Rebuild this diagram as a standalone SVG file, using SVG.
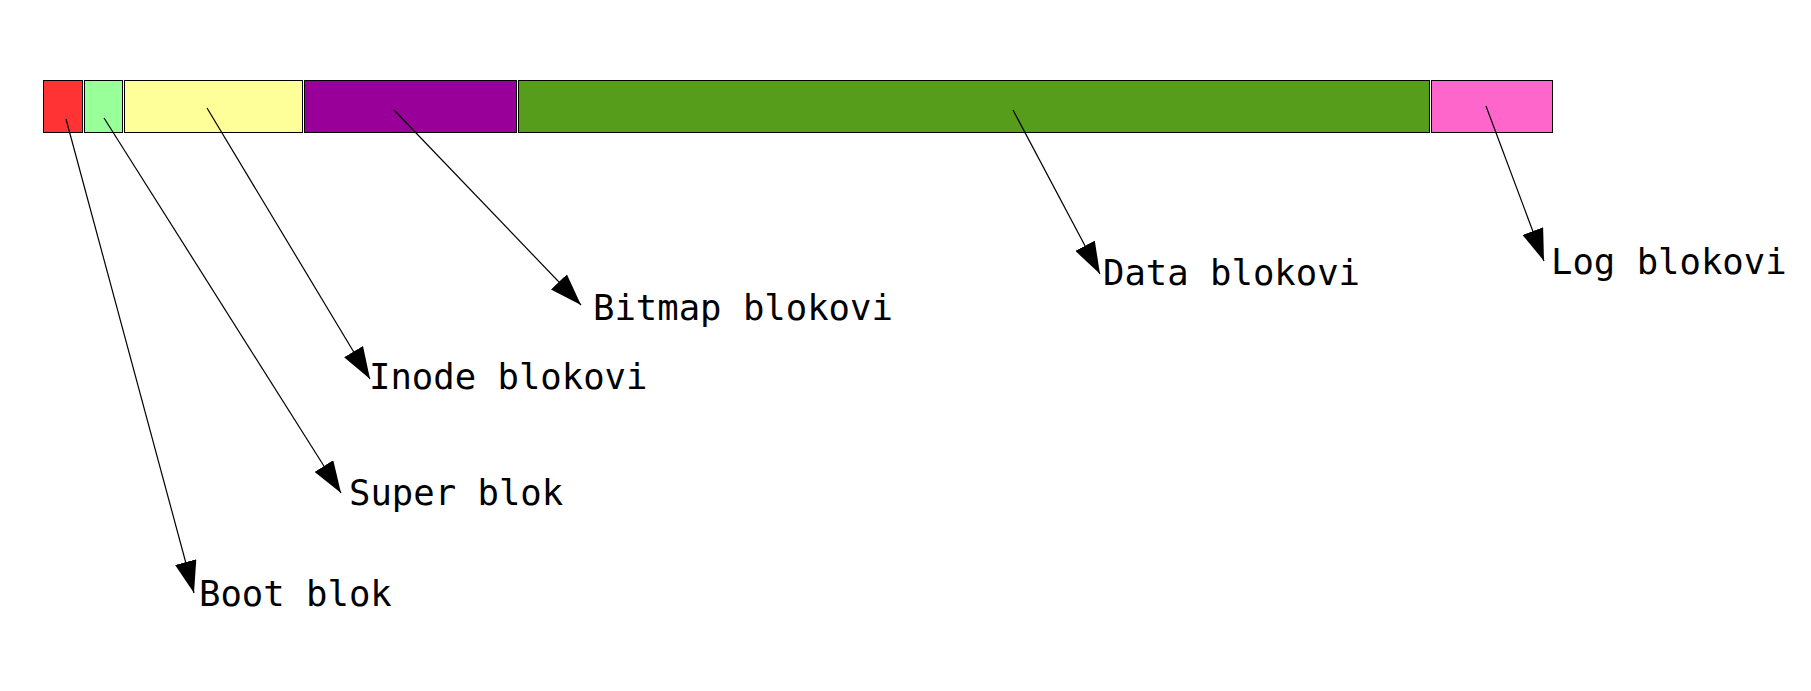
<svg xmlns="http://www.w3.org/2000/svg" width="1811" height="691" viewBox="0 0 1811 691">
  <style>
    .blk { stroke: #000; stroke-width: 1; }
    .lbl { font-family: "DejaVu Sans Mono", "Liberation Mono", monospace; font-size: 35.6px; fill: #000; }
    .wire { stroke: #000; stroke-width: 1.2; fill: none; marker-end: url(#arrow); }
  </style>
  <defs>
    <marker id="arrow" markerUnits="userSpaceOnUse" markerWidth="32" markerHeight="22" viewBox="0 0 29 20" refX="29" refY="10" orient="auto">
      <path d="M0,0 L29,10 L0,20 Z" fill="#000"/>
    </marker>
  </defs>
  <rect width="1811" height="691" fill="#fff"/>

  <!-- disk layout bar -->
  <g id="boot-block"><rect class="blk" x="43.5" y="80.5" width="39" height="52" fill="#ff3333"/></g>
  <g id="super-block"><rect class="blk" x="84.5" y="80.5" width="38" height="52" fill="#99ff99"/></g>
  <g id="inode-blocks"><rect class="blk" x="124.5" y="80.5" width="178" height="52" fill="#ffff99"/></g>
  <g id="bitmap-blocks"><rect class="blk" x="304.5" y="80.5" width="212" height="52" fill="#990099"/></g>
  <g id="data-blocks"><rect class="blk" x="518.5" y="80.5" width="911" height="52" fill="#579d1c"/></g>
  <g id="log-blocks"><rect class="blk" x="1431.5" y="80.5" width="121" height="52" fill="#ff66cc"/></g>

  <!-- labels -->
  <g id="labels">
    <text class="lbl" x="199" y="606">Boot blok</text>
    <text class="lbl" x="349" y="505">Super blok</text>
    <text class="lbl" x="369" y="389">Inode blokovi</text>
    <text class="lbl" x="593" y="320">Bitmap blokovi</text>
    <text class="lbl" x="1103" y="285">Data blokovi</text>
    <text class="lbl" x="1551" y="274">Log blokovi</text>
  </g>

  <!-- pointers from each region to its label -->
  <g id="connectors">
    <line class="wire" x1="66" y1="119" x2="194" y2="593"/>
    <line class="wire" x1="104" y1="118" x2="341" y2="493"/>
    <line class="wire" x1="207" y1="108" x2="370" y2="379"/>
    <line class="wire" x1="394" y1="110" x2="581" y2="305"/>
    <line class="wire" x1="1013" y1="110" x2="1100" y2="274"/>
    <line class="wire" x1="1486" y1="106" x2="1544" y2="261"/>
  </g>
</svg>
